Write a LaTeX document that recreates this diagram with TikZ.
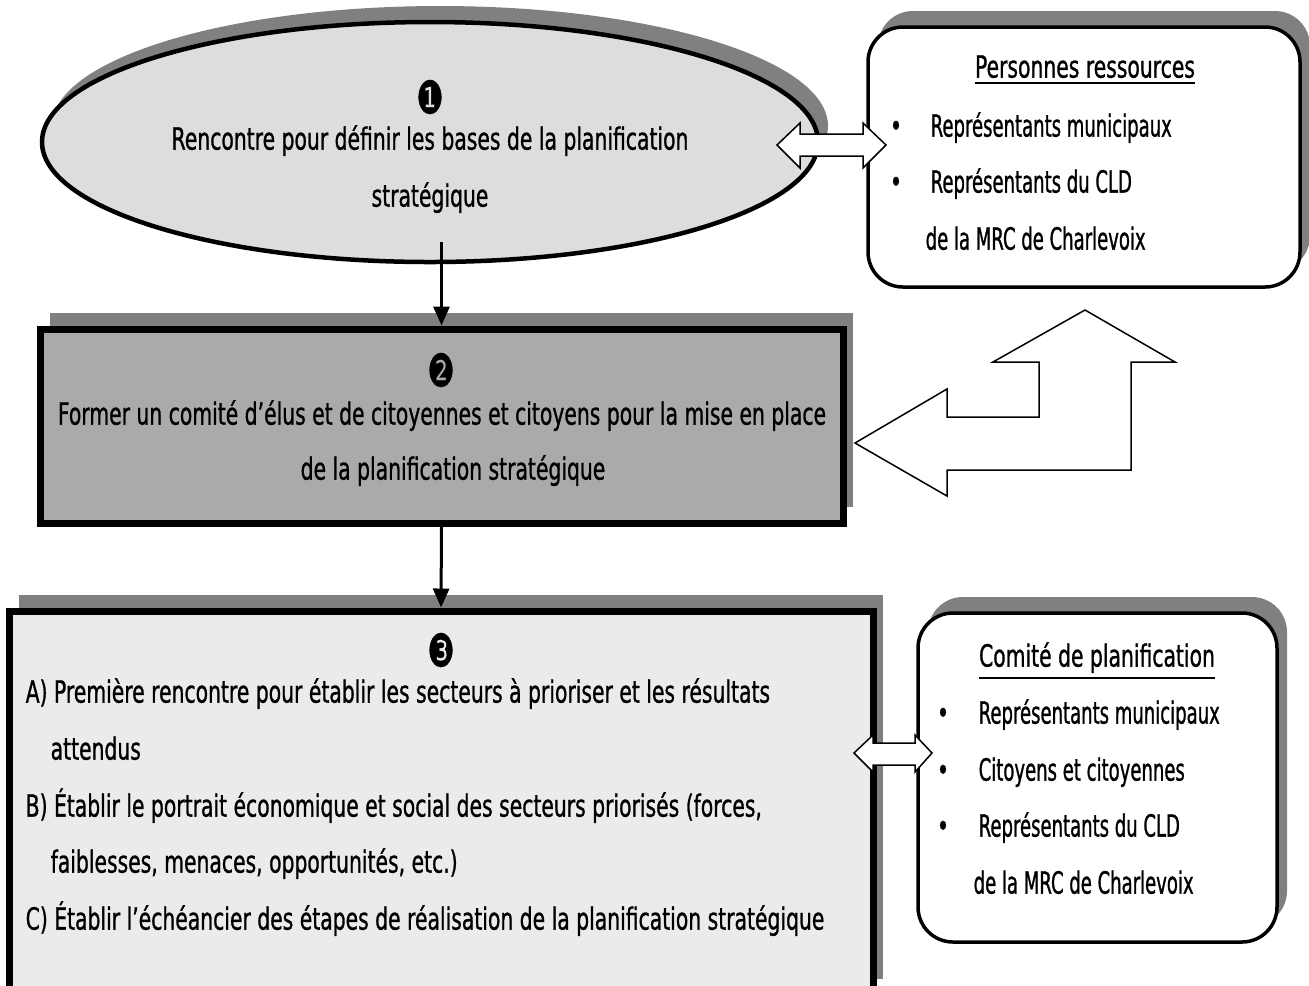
\documentclass[tikz,border=0pt]{standalone}
\usepackage{fontspec}
\setmainfont{DejaVu Sans}[FakeStretch=0.665, FakeBold=0.9]
\newfontfamily\listefont{DejaVu Sans}[FakeStretch=0.59, FakeBold=0.9]
\usetikzlibrary{shapes.geometric,shadows,arrows.meta,positioning}
\definecolor{ombre}{HTML}{808080}
\definecolor{grisclair}{HTML}{DDDDDD}
\definecolor{grismoyen}{HTML}{AAAAAA}
\definecolor{grispale}{HTML}{EBEBEB}
\begin{document}
\begin{tikzpicture}[x=0.1mm, y=-0.1mm,
  ombrage/.style={general shadow={fill=ombre, shadow xshift=1mm, shadow yshift=1.6mm}},
  bulle/.style={draw, ellipse, line width=0.45mm, fill=grisclair, ombrage, minimum width=77.6mm, minimum height=24mm},
  boite/.style={draw, rectangle, line width=0.7mm, ombrage},
  cadre/.style={draw, rectangle, rounded corners=3.5mm, line width=0.35mm, fill=white, ombrage},
  ligne/.style={inner sep=0pt, font=\fontsize{8.7pt}{10pt}\selectfont},
  liste/.style={inner sep=0pt, font=\fontsize{8.7pt}{10pt}\listefont},
  numero/.style={inner sep=0pt, font=\fontsize{13pt}{14pt}\selectfont},
  fleche/.style={line width=0.3mm, -{Triangle[length=1.9mm, width=1.6mm]}},
  creuse/.style={draw, line width=0.15mm, fill=white, line join=miter}]
\useasboundingbox (0,0) rectangle (1309,985);

\node[bulle] (e1) at (430,142) {};
\node[boite, fill=grismoyen, minimum width=80.3mm, minimum height=19.4mm] (e2) at (441.5,426) {};
\node[boite, fill=grispale, minimum width=86.4mm, minimum height=38.4mm] (e3) at (441,803) {};
\node[cadre, minimum width=43.2mm, minimum height=26mm] (r1) at (1084,157) {};
\node[cadre, minimum width=35.9mm, minimum height=32.9mm] (r2) at (1097.5,777.5) {};

\node[numero] (n1) at (430,97) {❶};
\node[ligne, anchor=mid] (t1a) at (430,140) {Rencontre pour définir les bases de la planification};
\node[ligne, anchor=mid] (t1b) at (430,197) {stratégique};

\node[numero] (n2) at (441,370) {❷};
\node[ligne, anchor=mid] (t2a) at (442,415) {Former un comité d’élus et de citoyennes et citoyens pour la mise en place};
\node[ligne, anchor=mid] (t2b) at (453,470) {de la planification stratégique};

\node[numero] (n3) at (441,650) {❸};
\node[ligne, anchor=mid west] (t3a) at (25,693) {A) Première rencontre pour établir les secteurs à prioriser et les résultats};
\node[ligne, anchor=mid west] (t3b) at (50,750) {attendus};
\node[ligne, anchor=mid west] (t3c) at (25,807) {B) Établir le portrait économique et social des secteurs priorisés (forces,};
\node[ligne, anchor=mid west] (t3d) at (50,863) {faiblesses, menaces, opportunités, etc.)};
\node[ligne, anchor=mid west] (t3e) at (25,920) {C) Établir l’échéancier des étapes de réalisation de la planification stratégique};

\node[ligne, anchor=mid] (h1) at (1085,68) {\underline{Personnes ressources}};
\node[ligne, anchor=mid] (p1a) at (896,127) {•};
\node[liste, anchor=mid west] (s1a) at (930,127) {Représentants municipaux};
\node[ligne, anchor=mid] (p1b) at (896,183) {•};
\node[liste, anchor=mid west] (s1b) at (930,183) {Représentants du CLD};
\node[liste, anchor=mid west] (s1c) at (925,240) {de la MRC de Charlevoix};

\node[ligne, anchor=mid] (h2) at (1097,657) {\underline{Comité de planification}};
\node[ligne, anchor=mid] (p2a) at (943,714) {•};
\node[liste, anchor=mid west] (s2a) at (978,714) {Représentants municipaux};
\node[ligne, anchor=mid] (p2b) at (943,771) {•};
\node[liste, anchor=mid west] (s2b) at (978,771) {Citoyens et citoyennes};
\node[ligne, anchor=mid] (p2c) at (943,827) {•};
\node[liste, anchor=mid west] (s2c) at (978,827) {Représentants du CLD};
\node[liste, anchor=mid west] (s2d) at (973,884) {de la MRC de Charlevoix};

\draw[fleche] ([yshift=2.2mm]e2.north |- e1.south) -- (e2.north);
\draw[fleche] (e2.south) -- (e3.north);

\draw[creuse] (777,145) -- (800,123) -- (800,134) -- (863,134) -- (863,123) -- (886,145)
  -- (863,168) -- (863,156) -- (800,156) -- (800,168) -- cycle;
\draw[creuse] (854,753) -- (873,735) -- (873,743) -- (915,743) -- (915,735) -- (932,753)
  -- (915,772) -- (915,765) -- (873,765) -- (873,772) -- cycle;
\draw[creuse] (855,443) -- (947,389) -- (947,417) -- (1039,417) -- (1039,362) -- (993,362)
  -- (1085,310) -- (1175,362) -- (1131,362) -- (1131,470) -- (947,470) -- (947,496) -- cycle;
\end{tikzpicture}
\end{document}
